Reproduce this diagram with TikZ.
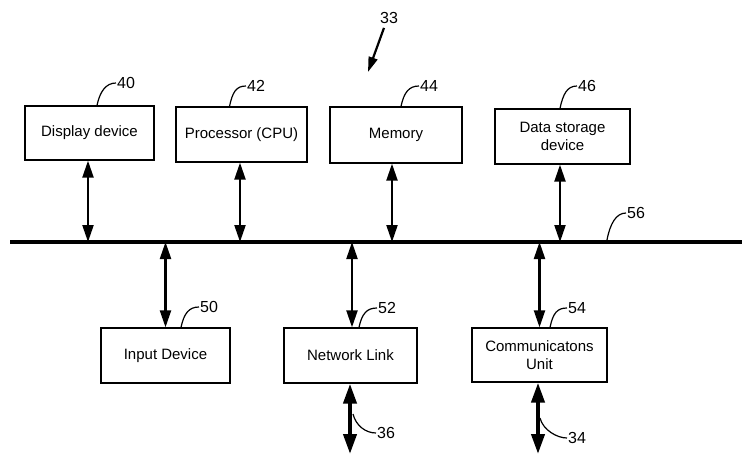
\documentclass[tikz,border=0pt]{standalone}
\usepackage{fontspec}
\setmainfont{Liberation Sans}
\usetikzlibrary{arrows.meta}
\begin{document}
\begin{tikzpicture}[x=1pt,y=-1pt,
  box/.style={draw, line width=1.3pt, rectangle, inner sep=0pt, align=center,
    font=\fontsize{15}{18}\selectfont},
  lbl/.style={font=\fontsize{16}{18}\selectfont, inner sep=0pt, anchor=west},
  bi/.style={line width=2.2pt, {Triangle[length=17pt,width=11pt]}-{Triangle[length=17pt,width=11pt]}},
  bibig/.style={line width=4pt, {Triangle[length=20pt,width=13pt]}-{Triangle[length=20pt,width=13pt]}},
  leader/.style={line width=1.2pt},
  ]
\fill[white] (0,0) rectangle (742,455);
\useasboundingbox (0,0) rectangle (742,455);

% top row boxes
\node[box, minimum width=129pt, minimum height=54pt] (disp) at (89.5,133) {Display device};
\node[box, minimum width=131pt, minimum height=55pt] (cpu) at (241.5,134.5) {Processor (CPU)};
\node[box, minimum width=132pt, minimum height=56pt] (mem) at (396,135) {Memory};
\node[box, minimum width=135pt, minimum height=55pt] (data) at (562.5,136.5) {Data storage\\device};

% bottom row boxes
\node[box, minimum width=129pt, minimum height=55pt] (inp) at (165.5,355.5) {Input Device};
\node[box, minimum width=133pt, minimum height=55pt] (net) at (350.5,355.5) {Network Link};
\node[box, minimum width=135pt, minimum height=54pt] (comm) at (539.5,355) {Communicatons\\Unit};

% bus
\coordinate (busL) at (10,242);
\coordinate (busR) at (742,242);
\draw[line width=4pt] (busL) -- (busR);

% arrows to bus
\draw[bi] ([xshift=-1.5pt]disp.south) -- ([xshift=-1.5pt]disp.south |- busL);
\draw[bi] ([xshift=-1.5pt]cpu.south) -- ([xshift=-1.5pt]cpu.south |- busL);
\draw[bi] ([xshift=-4pt]mem.south) -- ([xshift=-4pt]mem.south |- busL);
\draw[bi] ([xshift=-2.5pt]data.south) -- ([xshift=-2.5pt]data.south |- busL);
\draw[bi] (inp.north) -- (inp.north |- busL);
\draw[bi] ([xshift=1.5pt]net.north) -- ([xshift=1.5pt]net.north |- busL);
\draw[bi] (comm.north) -- (comm.north |- busL);

% external arrows
\coordinate (netout) at (350,454);
\coordinate (commout) at (538,454);
\draw[bibig] (net.south -| netout) -- (netout);
\draw[bibig] (comm.south -| commout) -- (commout);

% reference labels
\node[lbl] (l40) at (117,83) {40};
\node[lbl] (l42) at (247,86) {42};
\node[lbl] (l44) at (420,86) {44};
\node[lbl] (l46) at (578,86) {46};
\node[lbl] (l56) at (627,213) {56};
\node[lbl] (l50) at (200,307) {50};
\node[lbl] (l52) at (378,308) {52};
\node[lbl] (l54) at (568,308) {54};
\node[lbl] (l36) at (377,433) {36};
\node[lbl] (l34) at (568,438) {34};
\node[lbl] (l33) at (380,18) {33};

% leaders
\draw[leader] ([xshift=7.5pt]disp.north) .. controls +(3,-14) and +(-10,0) .. ([xshift=-1pt]l40.west);
\draw[leader] ([xshift=-12pt]cpu.north) .. controls +(3,-14) and +(-10,0) .. ([xshift=-1pt]l42.west);
\draw[leader] ([xshift=5pt]mem.north) .. controls +(3,-14) and +(-10,0) .. ([xshift=-1pt]l44.west);
\draw[leader] ([xshift=-2.5pt]data.north) .. controls +(3,-14) and +(-10,0) .. ([xshift=-1pt]l46.west);
\coordinate (b56) at (607,240);
\draw[leader] (b56) .. controls +(3,-16) and +(-10,0) .. ([xshift=-1pt]l56.west);
\draw[leader] ([xshift=15.5pt]inp.north) .. controls +(3,-14) and +(-10,0) .. ([xshift=-1pt]l50.west);
\draw[leader] ([xshift=8.5pt]net.north) .. controls +(3,-14) and +(-10,0) .. ([xshift=-1pt]l52.west);
\draw[leader] ([xshift=10.5pt]comm.north) .. controls +(3,-14) and +(-10,0) .. ([xshift=-1pt]l54.west);
\coordinate (s36) at (353,414);
\draw[leader] (s36) .. controls +(3,12) and +(-10,0) .. ([xshift=-1pt]l36.west);
\coordinate (s34) at (540,418);
\draw[leader] (s34) .. controls +(3,12) and +(-10,0) .. ([xshift=-1pt]l34.west);

% overall reference arrow
\coordinate (t33) at (368,72);
\draw[line width=2.2pt, -{Triangle[length=15pt,width=9pt]}] ([shift={(4pt,-4pt)}]l33.south west) -- (t33);
\end{tikzpicture}
\end{document}
